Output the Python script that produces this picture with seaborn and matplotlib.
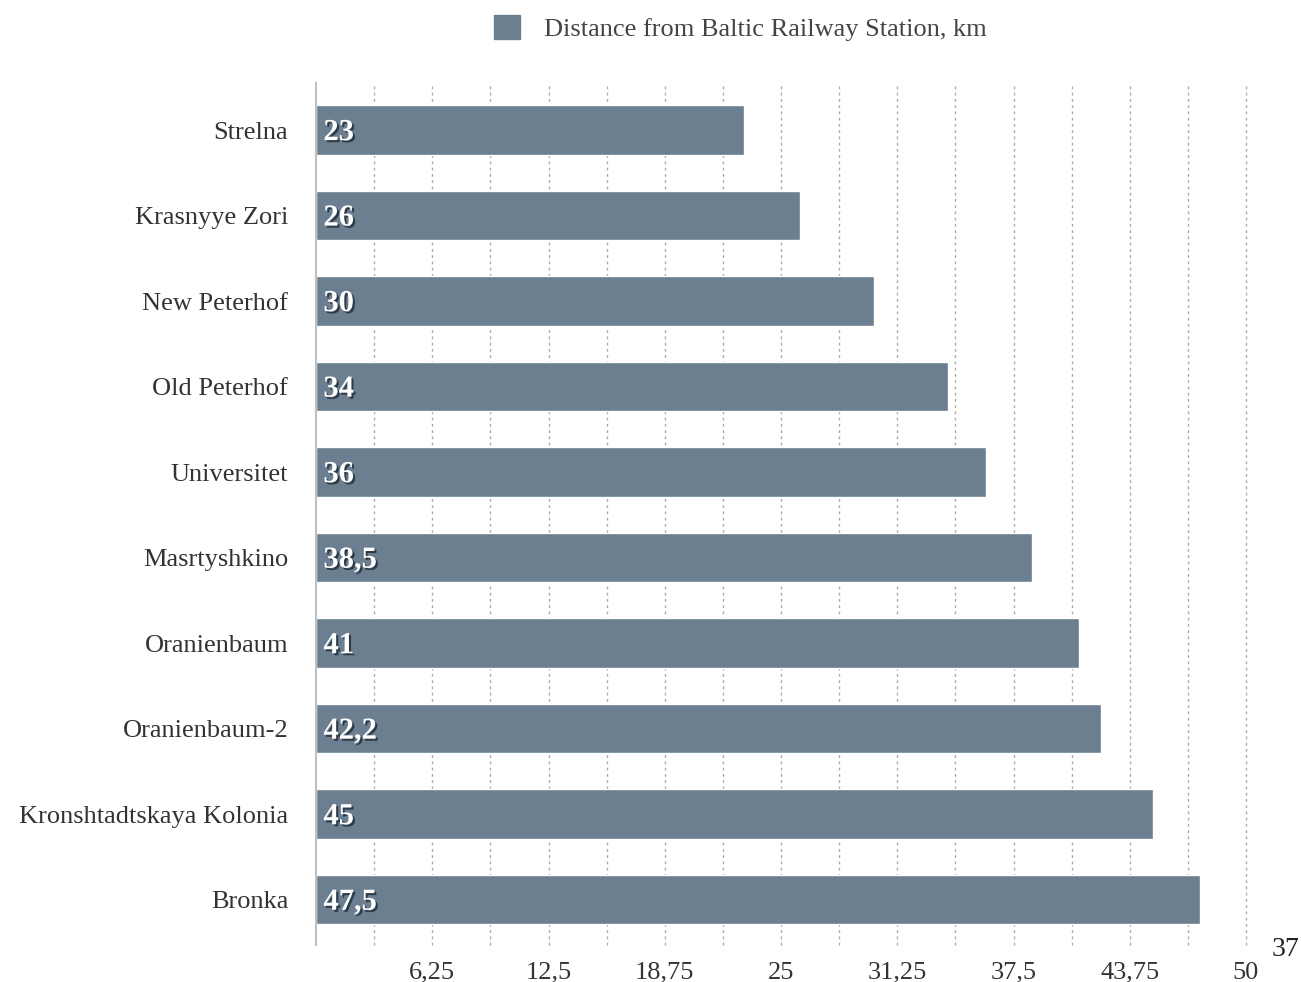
import matplotlib
matplotlib.use("Agg")
import matplotlib.pyplot as plt
import matplotlib.patheffects as pe
import seaborn as sns
import pandas as pd
import numpy as np

stations = ["Strelna", "Krasnyye Zori", "New Peterhof", "Old Peterhof", "Universitet",
            "Masrtyshkino", "Oranienbaum", "Oranienbaum-2", "Kronshtadtskaya Kolonia", "Bronka"]
distances = [23, 26, 30, 34, 36, 38.5, 41, 42.2, 45, 47.5]
value_labels = ["23", "26", "30", "34", "36", "38,5", "41", "42,2", "45", "47,5"]
major_ticks = [6.25, 12.5, 18.75, 25, 31.25, 37.5, 43.75, 50]
major_labels = ["6,25", "12,5", "18,75", "25", "31,25", "37,5", "43,75", "50"]
series_name = "Distance from Baltic Railway Station, km"
page_number = "37"

df = pd.DataFrame({"station": stations, "km": distances})

sns.set_theme(style="white")
plt.rcParams["font.family"] = ["Liberation Serif", "DejaVu Serif"]

bar_color = "#6b7f90"
fig = plt.figure(figsize=(13.01, 9.82), dpi=100)
ax = fig.add_axes([316/1301, 1 - 945/982, (1246-316)/1301, (945-83)/982])

ax.set_axisbelow(True)
for x in np.arange(3.125, 50.01, 3.125):
    ax.axvline(x, color="#aaaaaa", lw=1.0, ls=(0, (2, 2.5)), zorder=0, clip_on=False)

sns.barplot(data=df, x="km", y="station", orient="h", color=bar_color, width=0.58,
            saturation=1, ax=ax, zorder=2)

ax.set_xlim(0, 50)
ax.set_ylim(9.53, -0.55)
ax.set_xticks(major_ticks)
ax.set_xticklabels(major_labels)
ax.set_xlabel("")
ax.set_ylabel("")
for s in ["top", "right", "bottom"]:
    ax.spines[s].set_visible(False)
ax.spines["left"].set_color("#c0c0c0")
ax.spines["left"].set_linewidth(1.5)
ax.tick_params(axis="x", length=0, pad=12, labelsize=19, labelcolor="#333333")
ax.tick_params(axis="y", length=0, pad=20, labelsize=19, labelcolor="#333333")

for i, lab in enumerate(value_labels):
    ax.text(0.4, i + 0.03, lab, ha="left", va="center", fontsize=22, fontweight="bold",
            color="white", zorder=5,
            path_effects=[pe.SimplePatchShadow(offset=(1.5, -1.5), shadow_rgbFace="#1e2a36", alpha=0.8),
                          pe.Normal()])

leg = fig.legend(handles=[plt.Rectangle((0, 0), 1, 1, color=bar_color)], labels=[series_name],
                 loc="center", bbox_to_anchor=(740/1301, 1 - 28/982), frameon=False,
                 fontsize=19, handlelength=1.0, handleheight=1.0, handletextpad=0.9)
for t in leg.get_texts():
    t.set_color("#444444")

fig.text(1285/1301, 1 - 950/982, page_number, ha="center", va="center", fontsize=20, color="#222222")

fig.savefig("out.png", dpi=100)
